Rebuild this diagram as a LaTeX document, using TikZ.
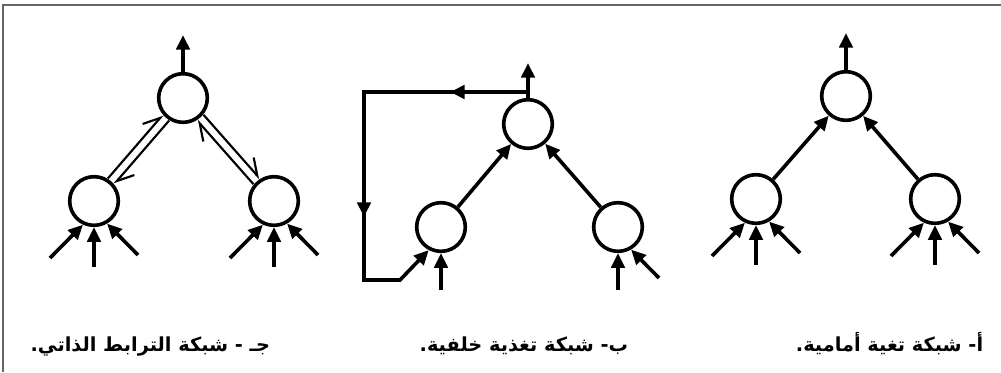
\documentclass[tikz,border=0pt]{standalone}
\usepackage{fontspec}
\newfontfamily\arabicfont[Script=Arabic]{DejaVu Sans}
\TeXXeTstate=1
\usetikzlibrary{arrows.meta}

\begin{document}
\begin{tikzpicture}[x=0.75pt,y=-0.75pt,line width=2.7pt,>={Triangle[length=11pt,width=10pt]}]
\tikzstyle{neuron}=[draw, circle, fill=white, minimum size=36.5pt, inner sep=0pt]
\tikzstyle{link}=[line width=1.6pt]
\tikzstyle{barb}=[-{Straight Barb[harpoon,length=12pt,width=14pt]}]
\tikzstyle{caption}=[anchor=base east, inner sep=0pt, font=\arabicfont\bfseries\fontsize{14.5}{17}\selectfont]
\useasboundingbox (0,0) rectangle (1001,372);
\draw[line width=1.5pt, black!60] (3,372) -- (3,5) -- (1001,5);

\node[neuron] (Ct) at (183, 98) {};
\node[neuron] (Cl) at ( 94,201) {};
\node[neuron] (Cr) at (274,201) {};
\coordinate (Cout) at (183,35);
\draw[->] (Ct) -- (Cout);
\draw[link,barb,transform canvas={shift={(-2.4pt,2.1pt)}}] (Cl) -- (Ct);
\draw[link,barb,transform canvas={shift={(2.4pt,-2.1pt)}}] (Ct) -- (Cl);
\draw[link,barb,transform canvas={shift={(-2.4pt,-2.1pt)}}] (Cr) -- (Ct);
\draw[link,barb,transform canvas={shift={(2.4pt,2.1pt)}}] (Ct) -- (Cr);

\node[neuron] (Bt) at (528,124) {};
\node[neuron] (Bl) at (441,227) {};
\node[neuron] (Br) at (618,227) {};
\coordinate (Bout) at (528,63);
\coordinate (Bfb)  at (528,92);
\coordinate (Bnw)  at (364,92);
\coordinate (Bsw)  at (364,280);
\coordinate (Bs)   at (400,280);
\coordinate (Bm1)  at (450,92);
\coordinate (Bm2)  at (364,217);
\draw[->] (Bt) -- (Bout);
\draw[->] (Bfb) -- (Bnw) -- (Bsw) -- (Bs) -- (Bl.-118);
\draw[->] (Bfb) -- (Bm1);
\draw[->] (Bnw) -- (Bm2);
\draw[->] (Bl) -- (Bt);
\draw[->] (Br) -- (Bt);
\draw[->] (Bl.center) ++(0,63) -- (Bl.-90);
\draw[->] (Br.center) ++(0,63) -- (Br.-90);
\draw[->] (Br.center) ++(41,51) -- (Br.-60);

\node[neuron] (At) at (846, 96) {};
\node[neuron] (Al) at (756,199) {};
\node[neuron] (Ar) at (935,199) {};
\coordinate (Aout) at (846,33);
\draw[->] (At) -- (Aout);
\draw[->] (Al) -- (At);
\draw[->] (Ar) -- (At);

\foreach \n in {Cl,Cr,Al,Ar}{
  \draw[->] (\n.center) ++(-44,57) -- (\n.-115);
  \draw[->] (\n.center) ++(0,66) -- (\n.-90);
  \draw[->] (\n.center) ++(44,54) -- (\n.-60);
}

\node[caption] (Ccap) at (272,351) {\beginR جـ - شبكة الترابط الذاتي.\endR};
\node[caption] (Bcap) at (630,351) {\beginR ب- شبكة تغذية خلفية.\endR};
\node[caption] (Acap) at (985,351) {\beginR أ- شبكة تغية أمامية.\endR};
\end{tikzpicture}
\end{document}
